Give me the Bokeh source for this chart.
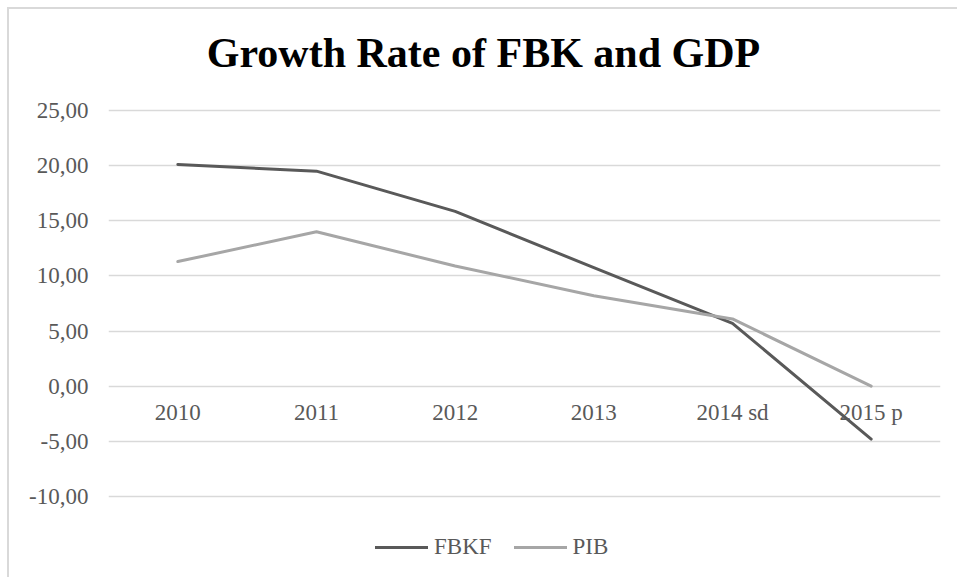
from bokeh.plotting import figure
from bokeh.models import FactorRange, Range1d, FixedTicker, Legend, LegendItem, ColumnDataSource, Label
from bokeh.core.properties import value
from bokeh.embed import file_html
from bokeh.resources import INLINE

categories = ["2010", "2011", "2012", "2013", "2014 sd", "2015 p"]
fbkf = [20.1, 19.5, 15.85, 10.75, 5.7, -4.8]
pib = [11.3, 14.0, 10.9, 8.2, 6.1, 0.0]
y_ticks = [-10, -5, 0, 5, 10, 15, 20, 25]
y_tick_labels = ["-10,00", "-5,00", "0,00", "5,00", "10,00", "15,00", "20,00", "25,00"]
title_text = "Growth Rate of FBK and GDP"

FONT = "Liberation Serif"
GRID = "#D9D9D9"
TXT = "#595959"

p = figure(
    width=950, height=570,
    x_range=FactorRange(*categories, range_padding=0),
    y_range=Range1d(-17.53, 34.16),
    output_backend="svg", toolbar_location=None,
    min_border_left=99, min_border_right=19, min_border_top=0, min_border_bottom=0,
)
p.margin = (7, 0, 0, 7)
p.styles = {"border-top": "2px solid #D9D9D9", "border-left": "2px solid #D9D9D9"}

title = Label(x=375, y=527, x_units="screen", y_units="screen", text=title_text,
              text_font=FONT, text_font_size="42px", text_font_style="bold", text_color="black",
              text_align="center", text_baseline="alphabetic")
p.add_layout(title)

p.outline_line_color = None
p.background_fill_color = "white"
p.border_fill_color = "white"

p.xaxis.visible = False
p.xgrid.visible = False
p.ygrid.grid_line_color = GRID
p.ygrid.grid_line_width = 1.3
p.ygrid.ticker = FixedTicker(ticks=y_ticks)

ya = p.yaxis[0]
ya.ticker = FixedTicker(ticks=y_ticks)
ya.major_label_overrides = {t: l for t, l in zip(y_ticks, y_tick_labels)}
ya.axis_line_color = None
ya.major_tick_line_color = None
ya.minor_tick_line_color = None
ya.major_tick_out = 0
ya.major_label_standoff = 20
ya.major_label_text_font = FONT
ya.major_label_text_font_size = "23px"
ya.major_label_text_color = TXT

src = ColumnDataSource(dict(cat=categories, fbkf=fbkf, pib=pib, zero=[0] * len(categories)))

r1 = p.line("cat", "fbkf", source=src, line_color="#595959", line_width=3, line_join="round", line_cap="round")
r2 = p.line("cat", "pib", source=src, line_color="#A6A6A6", line_width=3, line_join="round", line_cap="round")

p.text("cat", "zero", text="cat", source=src, y_offset=26, text_align="center", text_baseline="middle",
       text_font=value(FONT), text_font_size="23px", text_color=TXT)

legend = Legend(items=[LegendItem(label="FBKF", renderers=[r1]), LegendItem(label="PIB", renderers=[r2])],
                orientation="horizontal", location=(267, 19))
legend.label_text_font = FONT
legend.label_text_font_size = "23px"
legend.label_text_color = TXT
legend.glyph_width = 53
legend.glyph_height = 24
legend.label_height = 24
legend.label_standoff = 6
legend.spacing = 22
legend.padding = 0
legend.margin = 0
legend.border_line_color = None
legend.background_fill_alpha = 0
p.add_layout(legend, "center")

open("out.html", "w").write(file_html(p, INLINE))
